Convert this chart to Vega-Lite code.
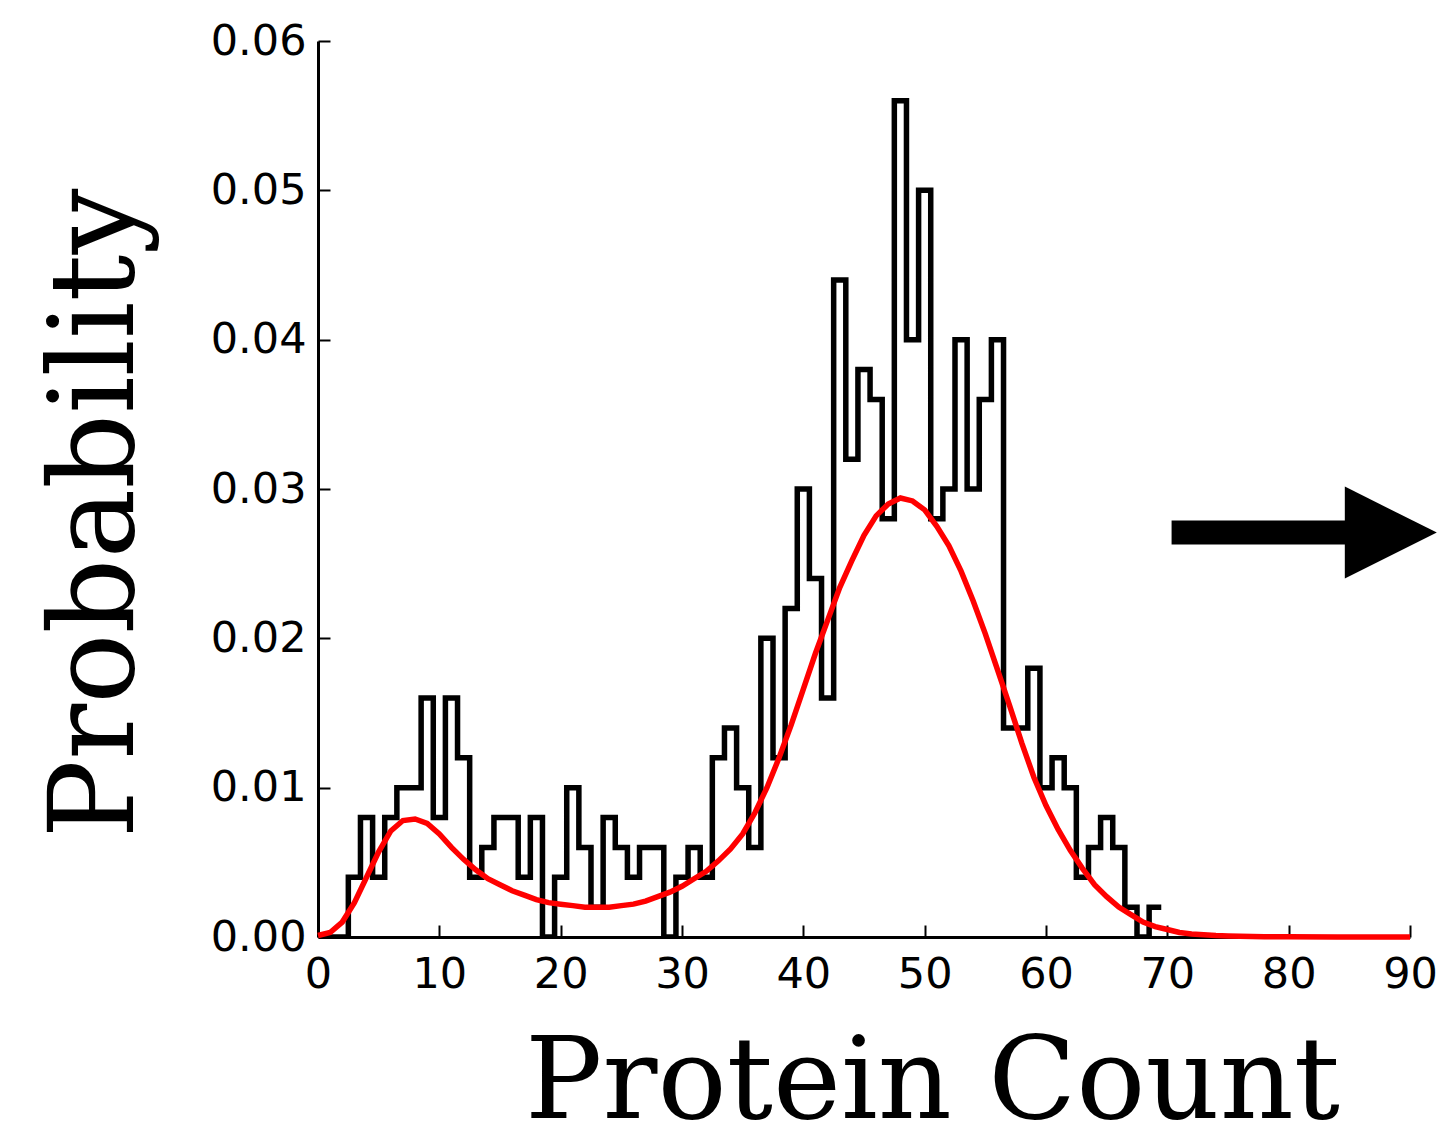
{
  "$schema": "https://vega.github.io/schema/vega-lite/v6.json",
  "width": 1092,
  "height": 896,
  "autosize": {"type": "none"},
  "padding": {"left": 318, "top": 41, "right": 30, "bottom": 208},
  "background": "white",
  "config": {"view": {"stroke": null}},
  "datasets": {
    "hist": [
      {"lo": -0.5, "p": 0}, {"lo": 0.5, "p": 0}, {"lo": 1.5, "p": 0}, {"lo": 2.5, "p": 0.004},
      {"lo": 3.5, "p": 0.008}, {"lo": 4.5, "p": 0.004}, {"lo": 5.5, "p": 0.008}, {"lo": 6.5, "p": 0.010},
      {"lo": 7.5, "p": 0.010}, {"lo": 8.5, "p": 0.016}, {"lo": 9.5, "p": 0.008}, {"lo": 10.5, "p": 0.016},
      {"lo": 11.5, "p": 0.012}, {"lo": 12.5, "p": 0.004}, {"lo": 13.5, "p": 0.006}, {"lo": 14.5, "p": 0.008},
      {"lo": 15.5, "p": 0.008}, {"lo": 16.5, "p": 0.004}, {"lo": 17.5, "p": 0.008}, {"lo": 18.5, "p": 0},
      {"lo": 19.5, "p": 0.004}, {"lo": 20.5, "p": 0.010}, {"lo": 21.5, "p": 0.006}, {"lo": 22.5, "p": 0.002},
      {"lo": 23.5, "p": 0.008}, {"lo": 24.5, "p": 0.006}, {"lo": 25.5, "p": 0.004}, {"lo": 26.5, "p": 0.006},
      {"lo": 27.5, "p": 0.006}, {"lo": 28.5, "p": 0}, {"lo": 29.5, "p": 0.004}, {"lo": 30.5, "p": 0.006},
      {"lo": 31.5, "p": 0.004}, {"lo": 32.5, "p": 0.012}, {"lo": 33.5, "p": 0.014}, {"lo": 34.5, "p": 0.010},
      {"lo": 35.5, "p": 0.006}, {"lo": 36.5, "p": 0.020}, {"lo": 37.5, "p": 0.012}, {"lo": 38.5, "p": 0.022},
      {"lo": 39.5, "p": 0.030}, {"lo": 40.5, "p": 0.024}, {"lo": 41.5, "p": 0.016}, {"lo": 42.5, "p": 0.044},
      {"lo": 43.5, "p": 0.032}, {"lo": 44.5, "p": 0.038}, {"lo": 45.5, "p": 0.036}, {"lo": 46.5, "p": 0.028},
      {"lo": 47.5, "p": 0.056}, {"lo": 48.5, "p": 0.040}, {"lo": 49.5, "p": 0.050}, {"lo": 50.5, "p": 0.028},
      {"lo": 51.5, "p": 0.030}, {"lo": 52.5, "p": 0.040}, {"lo": 53.5, "p": 0.030}, {"lo": 54.5, "p": 0.036},
      {"lo": 55.5, "p": 0.040}, {"lo": 56.5, "p": 0.014}, {"lo": 57.5, "p": 0.014}, {"lo": 58.5, "p": 0.018},
      {"lo": 59.5, "p": 0.010}, {"lo": 60.5, "p": 0.012}, {"lo": 61.5, "p": 0.010}, {"lo": 62.5, "p": 0.004},
      {"lo": 63.5, "p": 0.006}, {"lo": 64.5, "p": 0.008}, {"lo": 65.5, "p": 0.006}, {"lo": 66.5, "p": 0.002},
      {"lo": 67.5, "p": 0}, {"lo": 68.5, "p": 0.002}, {"lo": 69.5, "p": 0.002}
    ],
    "fit": [
      {"x": 0, "p": 0.0001}, {"x": 1, "p": 0.0003}, {"x": 2, "p": 0.0010}, {"x": 3, "p": 0.0023},
      {"x": 4, "p": 0.0040}, {"x": 5, "p": 0.0057}, {"x": 6, "p": 0.0071}, {"x": 7, "p": 0.0078},
      {"x": 8, "p": 0.0079}, {"x": 9, "p": 0.0076}, {"x": 10, "p": 0.0069}, {"x": 11, "p": 0.0060},
      {"x": 12, "p": 0.0052}, {"x": 13, "p": 0.0045}, {"x": 14, "p": 0.0039}, {"x": 15, "p": 0.0035},
      {"x": 16, "p": 0.0031}, {"x": 17, "p": 0.0028}, {"x": 18, "p": 0.0025}, {"x": 19, "p": 0.0023},
      {"x": 20, "p": 0.0022}, {"x": 21, "p": 0.0021}, {"x": 22, "p": 0.0020}, {"x": 23, "p": 0.0020},
      {"x": 24, "p": 0.0020}, {"x": 25, "p": 0.0021}, {"x": 26, "p": 0.0022}, {"x": 27, "p": 0.0024},
      {"x": 28, "p": 0.0027}, {"x": 29, "p": 0.0030}, {"x": 30, "p": 0.0034}, {"x": 31, "p": 0.0039},
      {"x": 32, "p": 0.0044}, {"x": 33, "p": 0.0051}, {"x": 34, "p": 0.0059}, {"x": 35, "p": 0.0069},
      {"x": 36, "p": 0.0083}, {"x": 37, "p": 0.0100}, {"x": 38, "p": 0.0120}, {"x": 39, "p": 0.0142},
      {"x": 40, "p": 0.0166}, {"x": 41, "p": 0.0190}, {"x": 42, "p": 0.0212}, {"x": 43, "p": 0.0234},
      {"x": 44, "p": 0.0252}, {"x": 45, "p": 0.0269}, {"x": 46, "p": 0.0282}, {"x": 47, "p": 0.0290},
      {"x": 48, "p": 0.0294}, {"x": 49, "p": 0.0292}, {"x": 50, "p": 0.0286}, {"x": 51, "p": 0.0275},
      {"x": 52, "p": 0.0262}, {"x": 53, "p": 0.0245}, {"x": 54, "p": 0.0225}, {"x": 55, "p": 0.0203},
      {"x": 56, "p": 0.0179}, {"x": 57, "p": 0.0155}, {"x": 58, "p": 0.0130}, {"x": 59, "p": 0.0107},
      {"x": 60, "p": 0.0088}, {"x": 61, "p": 0.0072}, {"x": 62, "p": 0.0058}, {"x": 63, "p": 0.0046},
      {"x": 64, "p": 0.0035}, {"x": 65, "p": 0.0027}, {"x": 66, "p": 0.0020}, {"x": 67, "p": 0.0015},
      {"x": 68, "p": 0.0010}, {"x": 69, "p": 0.0007}, {"x": 70, "p": 0.0005}, {"x": 71, "p": 0.0003},
      {"x": 72, "p": 0.0002}, {"x": 73, "p": 0.00015}, {"x": 74, "p": 0.0001}, {"x": 75, "p": 0.00007},
      {"x": 76, "p": 0.00005}, {"x": 77, "p": 0.00003}, {"x": 78, "p": 0.00002}, {"x": 80, "p": 0.00001},
      {"x": 84, "p": 0}, {"x": 90, "p": 0}
    ]
  },
  "layer": [
    {
      "data": {"name": "hist"},
      "mark": {"type": "line", "interpolate": "step-after", "color": "black", "strokeWidth": 5.5, "strokeJoin": "miter", "clip": true},
      "encoding": {
        "x": {
          "field": "lo", "type": "quantitative",
          "scale": {"domain": [0, 90], "nice": false, "zero": false},
          "axis": {
            "values": [0, 10, 20, 30, 40, 50, 60, 70, 80, 90],
            "format": "d",
            "grid": false,
            "domainColor": "black", "domainWidth": 3,
            "tickColor": "black", "tickWidth": 2, "tickSize": -12,
            "labelFont": "DejaVu Sans", "labelFontSize": 43, "labelColor": "black",
            "labelPadding": 28, "labelFlush": false, "labelOverlap": false,
            "title": "Protein Count",
            "titleFont": "DejaVu Serif", "titleFontSize": 115, "titleFontWeight": "normal",
            "titleColor": "black", "titleX": 614, "titleY": 180,
            "titleAlign": "center", "titleBaseline": "alphabetic"
          }
        },
        "y": {
          "field": "p", "type": "quantitative",
          "scale": {"domain": [0, 0.06], "nice": false},
          "axis": {
            "values": [0, 0.01, 0.02, 0.03, 0.04, 0.05, 0.06],
            "format": ".2f",
            "grid": false,
            "domainColor": "black", "domainWidth": 3,
            "tickColor": "black", "tickWidth": 2, "tickSize": -12,
            "labelFont": "DejaVu Sans", "labelFontSize": 43, "labelColor": "black",
            "labelPadding": 24, "labelFlush": false, "labelOverlap": false,
            "title": "Probability",
            "titleFont": "DejaVu Serif", "titleFontSize": 117, "titleFontWeight": "normal",
            "titleColor": "black", "titleX": -186, "titleY": 472,
            "titleAngle": -90, "titleAlign": "center", "titleBaseline": "alphabetic"
          }
        }
      }
    },
    {
      "data": {"name": "fit"},
      "mark": {"type": "line", "color": "#ff0000", "strokeWidth": 5.5, "clip": false},
      "encoding": {
        "x": {"field": "x", "type": "quantitative"},
        "y": {"field": "p", "type": "quantitative"}
      }
    },
    {
      "data": {"values": [{}]},
      "mark": {"type": "rule", "color": "black", "strokeWidth": 24, "strokeCap": "butt", "clip": false},
      "encoding": {
        "x": {"datum": 70.35},
        "x2": {"datum": 85},
        "y": {"datum": 0.02708}
      }
    },
    {
      "data": {"values": [{}]},
      "mark": {"type": "point", "shape": "M -1 -1 L 1 0 L -1 1 Z", "filled": true, "fill": "black", "opacity": 1, "strokeWidth": 0, "size": 8464, "clip": false},
      "encoding": {
        "x": {"datum": 88.42},
        "y": {"datum": 0.02708}
      }
    }
  ]
}
